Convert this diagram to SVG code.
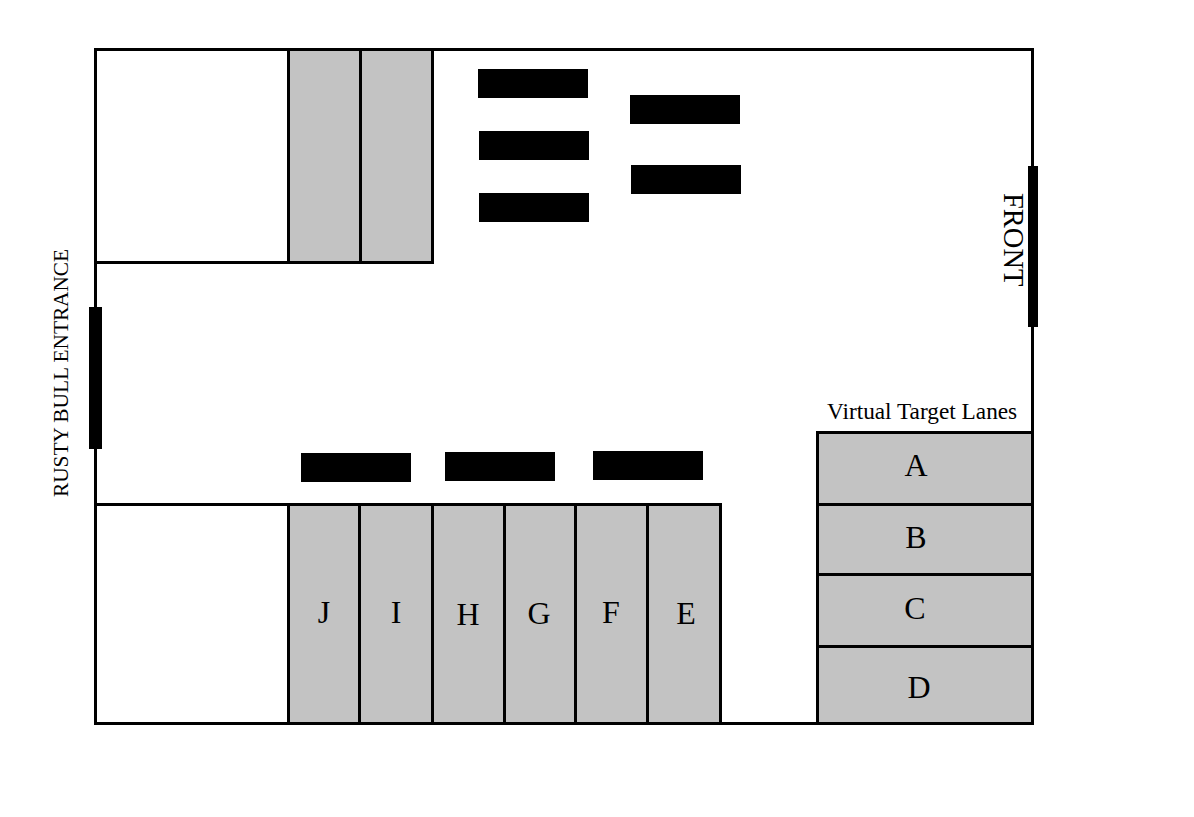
<svg xmlns="http://www.w3.org/2000/svg" width="1194" height="817" viewBox="0 0 1194 817">
<style>
.w{fill:none;stroke:#000;stroke-width:3}
.g{fill:#c3c3c3;stroke:#000;stroke-width:3}
.k{fill:#000}
text{font-family:"Liberation Serif",serif;fill:#000}
.l{font-size:32px;text-anchor:middle}
.s{font-size:23.300px}
.r{font-size:21.300px}
.f{font-size:28.500px}
</style>
<rect width="1194" height="817" fill="#fff"/>
<path class="w" d="M95.500 49.500H1032.500V723.500H95.500ZM95.500 262.500H288.500M95.500 504.500H288.500"/>
<g class="g">
<rect x="288.500" y="49.500" width="72" height="213"/>
<rect x="360.500" y="49.500" width="72" height="213"/>
<rect x="288.500" y="504.500" width="71" height="219"/>
<rect x="359.500" y="504.500" width="73" height="219"/>
<rect x="432.500" y="504.500" width="72" height="219"/>
<rect x="504.500" y="504.500" width="71" height="219"/>
<rect x="575.500" y="504.500" width="72" height="219"/>
<rect x="647.500" y="504.500" width="73" height="219"/>
<rect x="817.500" y="432.500" width="215" height="72"/>
<rect x="817.500" y="504.500" width="215" height="70"/>
<rect x="817.500" y="574.500" width="215" height="72"/>
<rect x="817.500" y="646.500" width="215" height="77"/>
</g>
<g class="k">
<rect x="478" y="69" width="110" height="29"/>
<rect x="479" y="131" width="110" height="29"/>
<rect x="479" y="193" width="110" height="29"/>
<rect x="630" y="95" width="110" height="29"/>
<rect x="631" y="165" width="110" height="29"/>
<rect x="301" y="453" width="110" height="29"/>
<rect x="445" y="452" width="110" height="29"/>
<rect x="593" y="451" width="110" height="29"/>
<rect x="89" y="307" width="13" height="142"/>
<rect x="1028" y="166" width="10" height="161"/>
</g>
<g class="l">
<text x="916" y="476">A</text>
<text x="916" y="548">B</text>
<text x="915" y="619">C</text>
<text x="919" y="698">D</text>
<text x="324" y="623">J</text>
<text x="396" y="623">I</text>
<text x="468" y="625">H</text>
<text x="539" y="624">G</text>
<text x="611" y="623">F</text>
<text x="686" y="624">E</text>
</g>
<text class="s" x="827" y="418.500">Virtual Target Lanes</text>
<text class="r" transform="translate(68 497) rotate(-90)">RUSTY BULL ENTRANCE</text>
<text class="f" transform="translate(1004 193) rotate(90)">FRONT</text>
</svg>
